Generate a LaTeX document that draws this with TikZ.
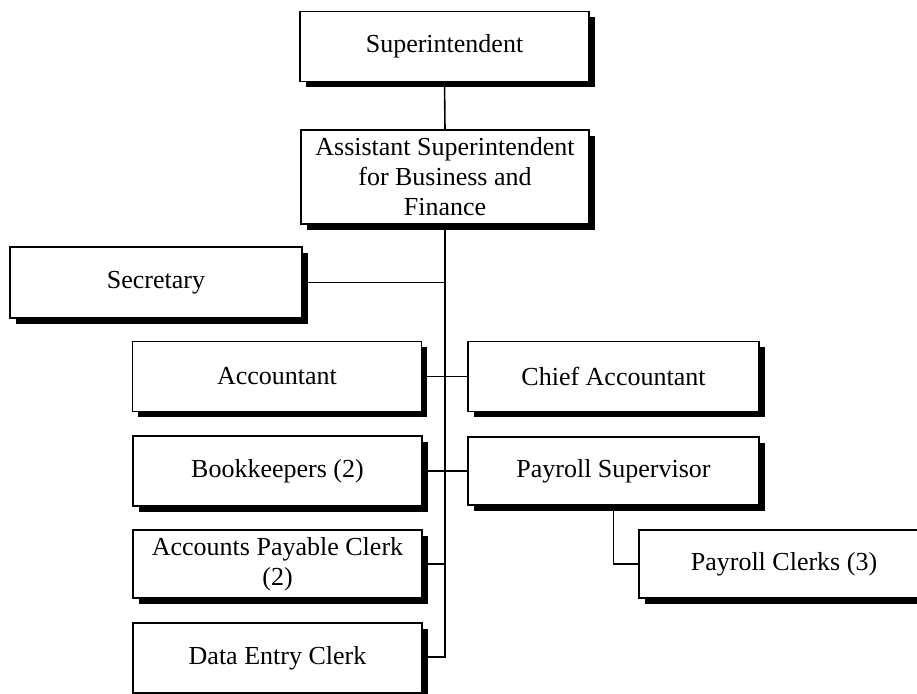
\documentclass[tikz,border=0pt]{standalone}
\usepackage{fontspec}
\setmainfont{Liberation Serif}
\usetikzlibrary{shadows}
\begin{document}
\begin{tikzpicture}[x=1pt,y=-1pt,
  orgbox/.style={draw=black, line width=1.6pt, fill=white, rectangle,
    minimum width=289pt, minimum height=70pt, inner sep=2pt,
    align=center, font=\fontsize{26}{30}\selectfont,
    drop shadow={shadow xshift=5.5pt, shadow yshift=-5.5pt, opacity=1, fill=black}},
  link/.style={draw=black, line width=1.6pt}]
\useasboundingbox (0,0) rectangle (917,693);
\clip (0,0) rectangle (917,693);
\fill[white] (0,0) rectangle (917,693);

% boxes of the organisation chart
\node[orgbox] (sup)    at (444.5,46.5) {Superintendent};
\node[orgbox, minimum width=288pt, minimum height=94pt] (asst) at (445,177)
  {Assistant Superintendent\\for Business and\\Finance};
\node[orgbox, minimum width=292pt, minimum height=71pt] (sec) at (156,282.5) {Secretary};
\node[orgbox] (acct)   at (277,376.5) {Accountant};
\node[orgbox, minimum width=291pt] (chief)  at (613.5,376.5) {Chief Accountant};
\node[orgbox] (book)   at (277.5,471) {Bookkeepers (2)};
\node[orgbox, minimum width=291pt, minimum height=68pt] (paysup) at (613.5,471) {Payroll Supervisor};
\node[orgbox, minimum height=68pt] (ap) at (277.5,564) {Accounts Payable Clerk\\(2)};
\node[orgbox] (data)   at (277.5,658) {Data Entry Clerk};
\node[orgbox, minimum width=290pt, minimum height=68pt] (clerks) at (784,564) {Payroll Clerks (3)};

% trunk and branches
\coordinate (trunkend) at (444,657);
\draw[link] (sup.south) -- (asst.north);
\draw[link] (asst.south) -- (asst.south |- trunkend) -- (data.east |- trunkend);
\draw[link] (sec.east) -- (sec.east -| asst.south);
\draw[link] (acct.east) -- (chief.west);
\draw[link] (book.east) -- (paysup.west);
\draw[link] (ap.east) -- (ap.east -| asst.south);
\draw[link] (paysup.south) |- (clerks.west);
\end{tikzpicture}
\end{document}
